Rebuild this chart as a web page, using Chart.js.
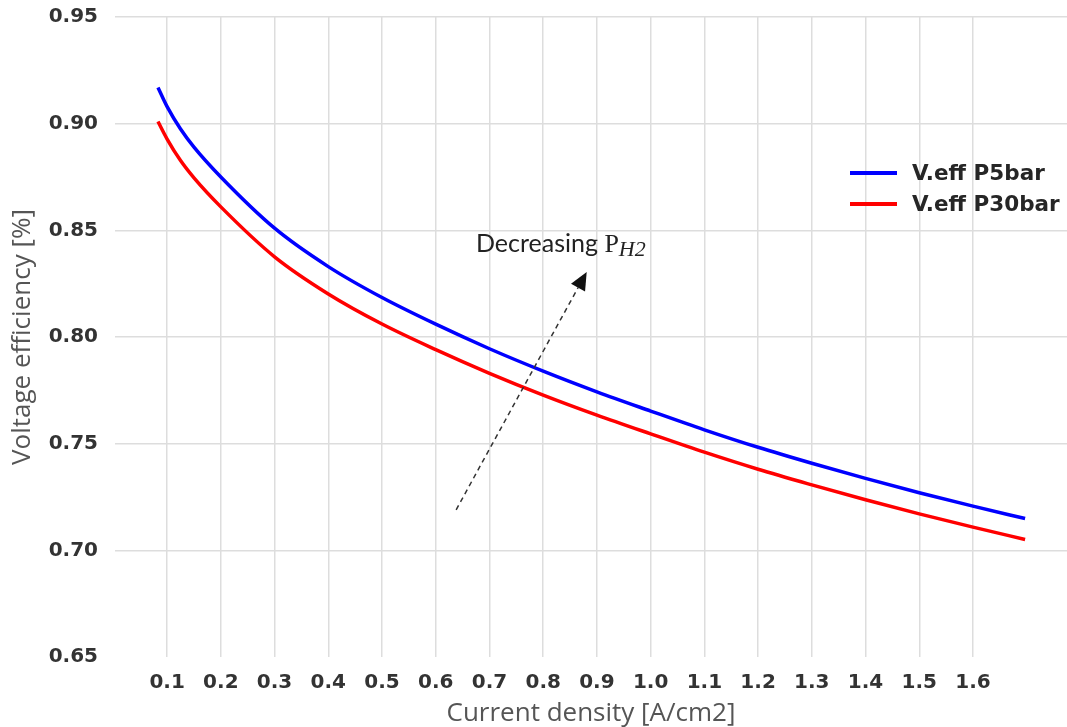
<!DOCTYPE html>
<html>
<head>
<meta charset="utf-8">
<script src="https://cdn.jsdelivr.net/npm/chart.js@4"></script>
<style>
  html, body { margin: 0; padding: 0; background: #fff; }
  #wrap { width: 1067px; height: 727px; }
</style>
</head>
<body>
<div id="wrap"><canvas id="effChart"></canvas></div>
<script>
// current density [A/cm2] and voltage efficiency for both pressures
const currentDensity = [0.083, 0.1, 0.125, 0.15, 0.2, 0.3, 0.4, 0.5, 0.6, 0.7, 0.8, 0.9, 1.0, 1.1, 1.2, 1.3, 1.4, 1.5, 1.6, 1.697];
const effP5bar  = [0.917, 0.908, 0.8975, 0.889, 0.875, 0.851, 0.833, 0.8185, 0.806, 0.7945, 0.784, 0.7743, 0.7653, 0.7565, 0.7483, 0.7408, 0.7337, 0.727, 0.7207, 0.7149];
const effP30bar = [0.901, 0.8928, 0.8827, 0.8746, 0.861, 0.8376, 0.8202, 0.8061, 0.7941, 0.783, 0.7728, 0.7634, 0.7546, 0.746, 0.738, 0.7307, 0.7237, 0.7171, 0.7109, 0.7051];
const xTicks = [0.1, 0.2, 0.3, 0.4, 0.5, 0.6, 0.7, 0.8, 0.9, 1.0, 1.1, 1.2, 1.3, 1.4, 1.5, 1.6];
const yTicks = [0.65, 0.70, 0.75, 0.80, 0.85, 0.90, 0.95];
const seriesLabels = ["V.eff P5bar", "V.eff P30bar"];
// arrow from tail to head, in data units
const arrowTail = [0.638, 0.719];
const arrowHead = [0.881, 0.8305];
const noteAt = [0.675, 0.840];

function toPoints(xs, ys) {
  return xs.map((x, i) => ({ x: x, y: ys[i] }));
}

const tickFont = { family: "DejaVu Sans", size: 20, weight: "bold" };
const titleFont = { family: "Open Sans", size: 26, lineHeight: 1 };

// legend box and the "Decreasing P_H2" arrow
const overlay = {
  id: "overlay",
  afterDatasetsDraw(chart) {
    const c = chart.ctx;
    const xs = chart.scales.x, ys = chart.scales.y;

    // legend
    c.save();
    c.font = "bold 21.5px 'DejaVu Sans'";
    c.textBaseline = "middle";
    chart.data.datasets.forEach((ds, i) => {
      const y = 173 + i * 31;
      c.strokeStyle = ds.borderColor;
      c.lineWidth = 4;
      c.beginPath();
      c.moveTo(850, y);
      c.lineTo(897, y);
      c.stroke();
      c.fillStyle = "#262626";
      c.fillText(ds.label, 912, y + 1);
    });
    c.restore();

    // dashed arrow
    const x0 = xs.getPixelForValue(arrowTail[0]), y0 = ys.getPixelForValue(arrowTail[1]);
    const x1 = xs.getPixelForValue(arrowHead[0]), y1 = ys.getPixelForValue(arrowHead[1]);
    const ang = Math.atan2(y1 - y0, x1 - x0);
    const headLen = 18, headW = 8;
    const bx = x1 - headLen * Math.cos(ang), by = y1 - headLen * Math.sin(ang);
    c.save();
    c.strokeStyle = "#333";
    c.lineWidth = 1.5;
    c.setLineDash([5, 4]);
    c.beginPath();
    c.moveTo(x0, y0);
    c.lineTo(bx, by);
    c.stroke();
    c.setLineDash([]);
    c.fillStyle = "#111";
    c.beginPath();
    c.moveTo(x1, y1);
    c.lineTo(bx + headW * Math.sin(ang), by - headW * Math.cos(ang));
    c.lineTo(bx - headW * Math.sin(ang), by + headW * Math.cos(ang));
    c.closePath();
    c.fill();

    // note text
    let tx = xs.getPixelForValue(noteAt[0]);
    const ty = ys.getPixelForValue(noteAt[1]);
    c.fillStyle = "#222";
    c.textBaseline = "alphabetic";
    c.font = "25px Lato";
    c.fillText("Decreasing ", tx, ty);
    tx += c.measureText("Decreasing ").width;
    c.font = "26px 'Liberation Serif'";
    c.fillText("P", tx, ty);
    tx += c.measureText("P").width;
    c.font = "italic 22px 'Liberation Serif'";
    c.fillText("H2", tx, ty + 4);
    c.restore();
  }
};

const ctx = document.getElementById("effChart");
new Chart(ctx, {
  type: "scatter",
  data: {
    datasets: [
      {
        label: seriesLabels[0],
        data: toPoints(currentDensity, effP5bar),
        borderColor: "#0000ff",
        borderWidth: 3.5,
        showLine: true,
        pointRadius: 0,
        cubicInterpolationMode: "monotone",
      },
      {
        label: seriesLabels[1],
        data: toPoints(currentDensity, effP30bar),
        borderColor: "#ff0000",
        borderWidth: 3.5,
        showLine: true,
        pointRadius: 0,
        cubicInterpolationMode: "monotone",
      },
    ],
  },
  options: {
    responsive: true,
    maintainAspectRatio: false,
    animation: false,
    layout: { padding: { top: 17, right: 0, left: 0, bottom: 0 } },
    plugins: {
      legend: { display: false },
      tooltip: { enabled: false },
    },
    scales: {
      x: {
        type: "linear",
        min: 0.003,
        max: 1.775,
        afterBuildTicks: (s) => { s.ticks = xTicks.map((v) => ({ value: v })); },
        afterFit: (s) => { s.height = 70; s.paddingLeft = 0; s.paddingRight = 0; },
        border: { display: false },
        grid: { color: "#dddddd", lineWidth: 1.5, drawTicks: false },
        ticks: {
          font: tickFont,
          color: "#333",
          padding: 14,
          maxRotation: 0,
          autoSkip: false,
          callback: (v) => v.toFixed(1),
        },
        title: {
          display: true,
          text: "Current density [A/cm2]",
          font: titleFont,
          color: "#555",
          padding: { top: 0, bottom: 0 },
        },
      },
      y: {
        min: 0.65,
        max: 0.95,
        afterBuildTicks: (s) => { s.ticks = yTicks.map((v) => ({ value: v })); },
        afterFit: (s) => { s.width = 115; s.paddingTop = 0; s.paddingBottom = 0; },
        border: { display: false },
        grid: {
          color: (c) => (c.tick && c.tick.value === 0.65 ? "rgba(0,0,0,0)" : "#dddddd"),
          lineWidth: 1.5,
          drawTicks: false,
        },
        ticks: {
          font: tickFont,
          color: "#333",
          padding: 17,
          callback: (v) => v.toFixed(2),
        },
        title: {
          display: true,
          text: "Voltage efficiency [%]",
          font: titleFont,
          color: "#555",
          padding: { top: 10, bottom: 0 },
        },
      },
    },
  },
  plugins: [overlay],
});
</script>
</body>
</html>
